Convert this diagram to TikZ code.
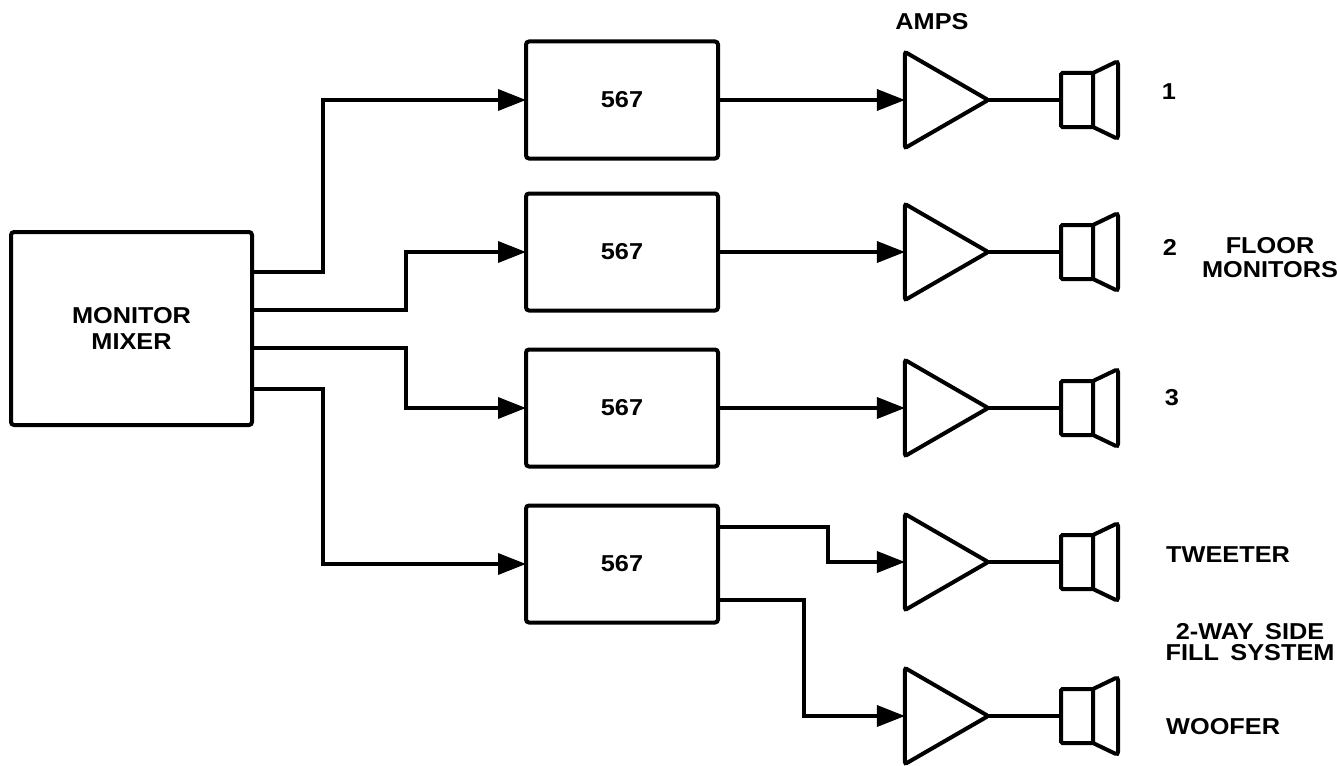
\documentclass[tikz,border=0pt]{standalone}
\usepackage{fontspec}
\setmainfont{Liberation Sans}[FakeStretch=1.1]
\usetikzlibrary{calc}
\usetikzlibrary{arrows.meta}
\usetikzlibrary{shapes.geometric}
\tikzset{
  blk/.style={draw=black, line width=4pt, rounded corners=3pt, inner sep=0pt, outer sep=0pt},
  eqbox/.style={blk, minimum width=192pt, minimum height=117pt},
  amp/.style={draw=black, line width=4pt, rounded corners=2pt, regular polygon, regular polygon sides=3,
    shape border rotate=-90, minimum size=111pt, inner sep=0pt, outer sep=0pt},
  spk/.style={blk, rounded corners=1.5pt, minimum width=32pt, minimum height=54pt},
  sig/.style={line width=3.5pt},
  arr/.style={sig, -{Triangle[length=28pt,width=21pt]}},
  lbl/.style={font=\fontsize{23}{24}\selectfont\bfseries, inner sep=0pt}
}
\begin{document}
\begin{tikzpicture}[x=1pt,y=-1pt]
\useasboundingbox (0,0) rectangle (1337,765);

\node[blk, minimum width=241pt, minimum height=193pt, align=center, font=\fontsize{23}{26}\selectfont\bfseries] (mixer) at (131.5,328.5) {MONITOR\\MIXER};
\coordinate (out1) at ($(mixer.east)+(0,-56.5)$);
\coordinate (out2) at ($(mixer.east)+(0,-18.5)$);
\coordinate (out3) at ($(mixer.east)+(0,19.5)$);
\coordinate (out4) at ($(mixer.east)+(0,60.5)$);

\node[eqbox, lbl] (eq1) at (622,100) {567};
\node[eqbox, lbl] (eq2) at (622,252) {567};
\node[eqbox, lbl] (eq3) at (622,408) {567};
\node[eqbox, lbl] (eq4) at (622,564) {567};
\coordinate (tw) at ($(eq4.east)+(0,-37)$);
\coordinate (wf) at ($(eq4.east)+(0,36)$);

\node[amp] (amp1) at (932.7,100) {};
\node[amp] (amp2) at (932.7,252) {};
\node[amp] (amp3) at (932.7,408) {};
\node[amp] (amp4) at (932.7,562) {};
\node[amp] (amp5) at (932.7,716) {};
\node[lbl] (ampslbl) at (932,22) {AMPS};

\node[spk] (spk1) at (1077,100) {};
\node[spk] (spk2) at (1077,252) {};
\node[spk] (spk3) at (1077,408) {};
\node[spk] (spk4) at (1077,562) {};
\node[spk] (spk5) at (1077,716) {};
\draw[blk] (spk1.north east) -- ++(25,-12) -- ++(0,78) -- (spk1.south east);
\draw[blk] (spk2.north east) -- ++(25,-12) -- ++(0,78) -- (spk2.south east);
\draw[blk] (spk3.north east) -- ++(25,-12) -- ++(0,78) -- (spk3.south east);
\draw[blk] (spk4.north east) -- ++(25,-12) -- ++(0,78) -- (spk4.south east);
\draw[blk] (spk5.north east) -- ++(25,-12) -- ++(0,78) -- (spk5.south east);

\draw[arr] (out1) -- ++(71,0) |- (eq1.west);
\draw[arr] (out2) -- ++(154,0) |- (eq2.west);
\draw[arr] (out3) -- ++(154,0) |- (eq3.west);
\draw[arr] (out4) -- ++(71,0) |- (eq4.west);

\draw[arr] (eq1.east) -- (amp1.west);
\draw[arr] (eq2.east) -- (amp2.west);
\draw[arr] (eq3.east) -- (amp3.west);
\draw[arr] (tw) -- ++(110,0) |- (amp4.west);
\draw[arr] (wf) -- ++(86,0) |- (amp5.west);

\draw[sig] (amp1.east) -- (spk1.west);
\draw[sig] (amp2.east) -- (spk2.west);
\draw[sig] (amp3.east) -- (spk3.west);
\draw[sig] (amp4.east) -- (spk4.west);
\draw[sig] (amp5.east) -- (spk5.west);

\node[lbl] (no1) at (1169,92) {1};
\node[lbl] (no2) at (1170,247) {2};
\node[lbl, align=center] (floor) at (1270,258) {FLOOR\\MONITORS};
\node[lbl] (no3) at (1172,398) {3};
\node[lbl, anchor=west] (tweet) at (1166,555) {TWEETER};
\node[lbl, align=center, font=\fontsize{23}{21}\selectfont\bfseries] (side) at (1250,642) {2-WAY\enspace SIDE\\FILL\enspace SYSTEM};
\node[lbl, anchor=west] (woof) at (1166,727) {WOOFER};
\end{tikzpicture}
\end{document}
